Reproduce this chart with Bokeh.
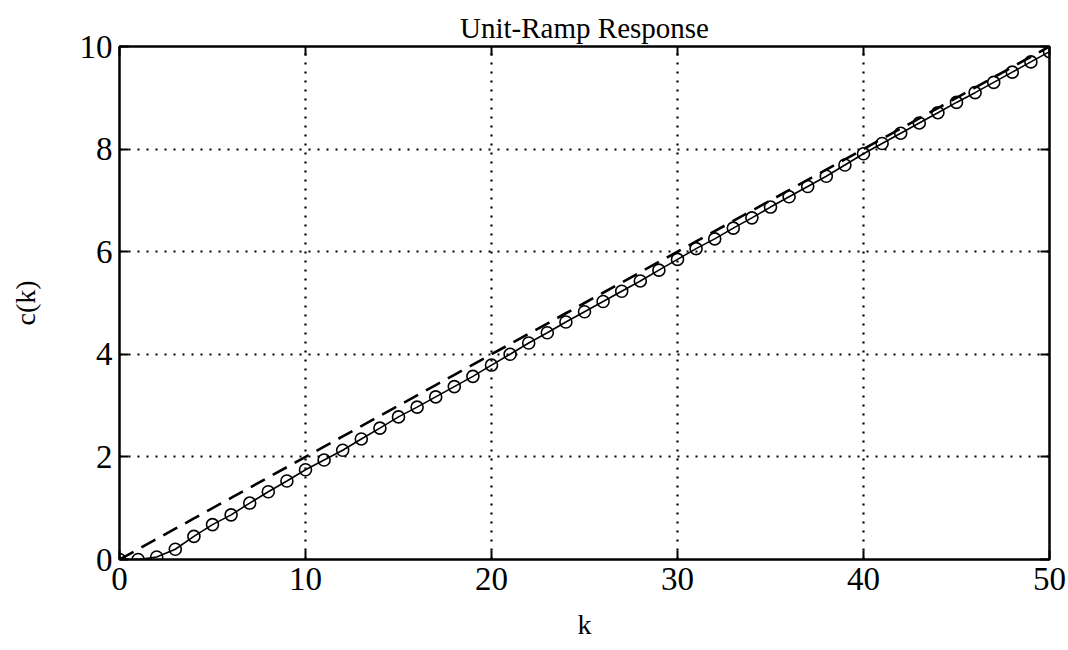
from bokeh.plotting import figure
from bokeh.models import LinearAxis, Range1d, FixedTicker
from bokeh.embed import file_html
from bokeh.resources import INLINE

# ---- data ----
k = list(range(0, 51))
c_k = [0.0, 0.0, 0.05, 0.2, 0.45, 0.68, 0.87, 1.1, 1.32, 1.53,
       1.75, 1.94, 2.13, 2.35, 2.56, 2.78, 2.97, 3.17, 3.37, 3.57,
       3.79, 4.0, 4.22, 4.42, 4.63, 4.83, 5.03, 5.23, 5.43, 5.64,
       5.85, 6.06, 6.25, 6.46, 6.66, 6.87, 7.07, 7.27, 7.47, 7.69,
       7.91, 8.11, 8.31, 8.51, 8.71, 8.91, 9.1, 9.3, 9.5, 9.7,
       9.9]
r_k = [0.0, 0.2, 0.4, 0.6, 0.8, 1.0, 1.2, 1.4, 1.6, 1.8,
       2.0, 2.2, 2.4, 2.6, 2.8, 3.0, 3.2, 3.4, 3.6, 3.8,
       4.0, 4.2, 4.4, 4.6, 4.8, 5.0, 5.2, 5.4, 5.6, 5.8,
       6.0, 6.2, 6.4, 6.6, 6.8, 7.0, 7.2, 7.4, 7.6, 7.8,
       8.0, 8.2, 8.4, 8.6, 8.8, 9.0, 9.2, 9.4, 9.6, 9.8,
       10.0]
x_ticks = [0, 10, 20, 30, 40, 50]
y_ticks = [0, 2, 4, 6, 8, 10]
title_text = "Unit-Ramp Response"
x_label = "k"
y_label = "c(k)"

FONT = "Liberation Serif"

p = figure(width=1066, height=642, output_backend="svg", toolbar_location=None,
           x_range=Range1d(0, 50), y_range=Range1d(0, 10),
           min_border_left=119, min_border_right=17, min_border_top=46, min_border_bottom=80)

p.title.text = title_text
p.title.text_font = FONT
p.title.text_font_size = "29px"
p.title.text_font_style = "normal"
p.title.text_color = "black"
p.title.align = "center"
p.title.standoff = 6

p.outline_line_color = "black"
p.outline_line_width = 2
p.outline_line_alpha = 1

p.background_fill_color = "white"
p.border_fill_color = "white"

# grid
for g in (p.xgrid, p.ygrid):
    g.grid_line_color = "black"
    g.grid_line_dash = "2 7"
    g.grid_line_width = 2.2
    g.grid_line_alpha = 1
p.xgrid.ticker = FixedTicker(ticks=x_ticks)
p.ygrid.ticker = FixedTicker(ticks=y_ticks)


def style_axis(ax, ticks, labels=True):
    ax.ticker = FixedTicker(ticks=ticks)
    ax.axis_line_color = "black"
    ax.axis_line_width = 2
    ax.major_tick_in = 9
    ax.major_tick_out = 0
    ax.major_tick_line_width = 2
    ax.major_tick_line_color = "black"
    ax.minor_tick_line_color = None
    ax.major_label_text_font = FONT
    ax.major_label_text_font_size = "33px"
    ax.major_label_text_color = "black"
    ax.axis_label_text_font = FONT
    ax.axis_label_text_font_size = "28px"
    ax.axis_label_text_font_style = "normal"
    ax.axis_label_text_color = "black"
    if not labels:
        ax.major_label_text_font_size = "0px"
        ax.major_label_text_alpha = 0


xa = p.xaxis[0]
style_axis(xa, x_ticks)
xa.axis_label = x_label
xa.major_label_standoff = 8
xa.axis_label_standoff = 16

ya = p.yaxis[0]
style_axis(ya, y_ticks)
ya.axis_label = y_label
ya.major_label_standoff = 7
ya.axis_label_standoff = 36

top = LinearAxis()
style_axis(top, x_ticks, labels=False)
p.add_layout(top, "above")
right = LinearAxis()
style_axis(right, y_ticks, labels=False)
p.add_layout(right, "right")

# series
p.line(k, r_k, line_color="black", line_width=2.6, line_dash="16 9")
p.line(k, c_k, line_color="black", line_width=1.6)
p.scatter(k, c_k, marker="circle", size=12, fill_color=None,
          line_color="black", line_width=1.6)

open("out.html", "w").write(file_html(p, INLINE))
